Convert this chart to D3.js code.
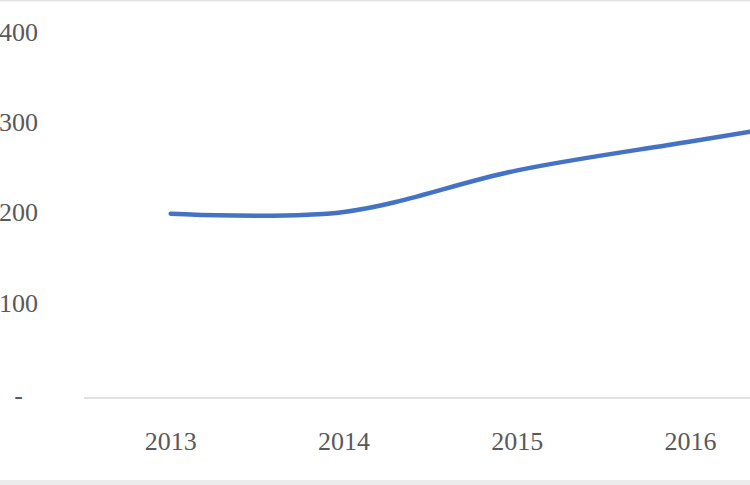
<!DOCTYPE html>
<html>
<head>
<meta charset="utf-8">
<script src="https://cdn.jsdelivr.net/npm/d3@7"></script>
<style>
  html, body { margin: 0; padding: 0; background: #fff; }
  svg { display: block; }
</style>
</head>
<body>
<svg id="chart" width="750" height="485"></svg>
<script>
const years = ["2013", "2014", "2015", "2016", "2017"];
const values = [204, 206, 252, 284, 315];
const visibleYears = ["2013", "2014", "2015", "2016"];
const yTicks = [0, 100, 200, 300, 400];

const svg = d3.select("#chart");
const W = 750, H = 485;

// frame bits
svg.append("rect").attr("x", 0).attr("y", 0).attr("width", W).attr("height", 1.5).attr("fill", "#e3e3e3");
svg.append("rect").attr("x", 0).attr("y", 480).attr("width", W).attr("height", 5).attr("fill", "#ececec");

const x = d3.scaleBand().domain(years).range([84, 84 + 5 * 173.3]).padding(0);
const y = d3.scaleLinear().domain([0, 400]).range([398, 36.7]);

const font = "'Liberation Serif', 'Times New Roman', serif";

// y axis (labels only)
const yAxis = d3.axisLeft(y).tickValues(yTicks).tickSize(0)
  .tickFormat(d => d === 0 ? "-" : d3.format("d")(d));
const gy = svg.append("g").attr("transform", "translate(38,0)").call(yAxis);
gy.select(".domain").remove();
gy.selectAll("text")
  .attr("x", 0)
  .attr("dy", "0.32em")
  .attr("transform", "translate(0,-5)")
  .attr("fill", "#595959")
  .style("font-family", font)
  .style("font-size", "26px");
gy.selectAll(".tick").filter(d => d === 0).select("text").attr("x", -15).attr("transform", "translate(0,-3)");

// x axis
const xAxis = d3.axisBottom(x).tickValues(visibleYears).tickSize(0);
const gx = svg.append("g").attr("transform", "translate(0,398)").call(xAxis);
gx.select(".domain").attr("stroke", "#d9d9d9").attr("stroke-width", 1.5).attr("d", `M84,0H${W}`);
gx.selectAll("text")
  .attr("y", 0)
  .attr("dy", "2.0em")
  .attr("fill", "#595959")
  .style("font-family", font)
  .style("font-size", "26px");

// line
const line = d3.line()
  .x((d, i) => x(years[i]) + x.bandwidth() / 2)
  .y(d => y(d))
  .curve(d3.curveCardinal.tension(0));

svg.append("path")
  .datum(values)
  .attr("d", line)
  .attr("fill", "none")
  .attr("stroke", "#4472C4")
  .attr("stroke-width", 4.5)
  .attr("stroke-linecap", "round");
</script>
</body>
</html>
